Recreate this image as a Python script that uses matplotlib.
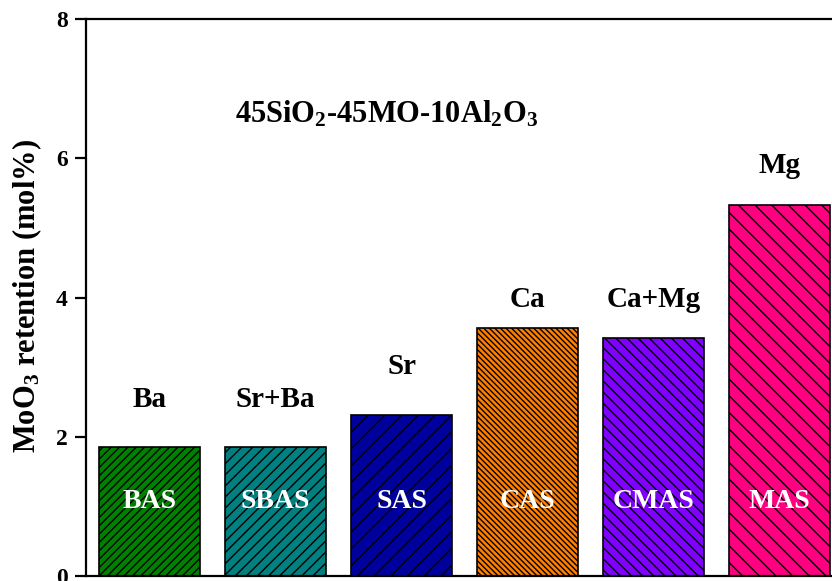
import matplotlib
matplotlib.use("Agg")
import matplotlib.pyplot as plt

plt.rcParams['font.family'] = ['Liberation Serif', 'DejaVu Serif']
plt.rcParams['font.weight'] = 'bold'
plt.rcParams['mathtext.fontset'] = 'custom'
plt.rcParams['mathtext.rm'] = 'Liberation Serif:bold'
plt.rcParams['mathtext.it'] = 'Liberation Serif:bold'
plt.rcParams['mathtext.bf'] = 'Liberation Serif:bold'
plt.rcParams['hatch.linewidth'] = 1.0

# glass systems and measured MoO3 retention
glasses = ['BAS', 'SBAS', 'SAS', 'CAS', 'CMAS', 'MAS']
cations = ['Ba', 'Sr+Ba', 'Sr', 'Ca', 'Ca+Mg', 'Mg']
retention = [1.85, 1.85, 2.31, 3.56, 3.42, 5.33]
colors = ['#008000', '#008080', '#00009C', '#FF8000', '#8000FF', '#FF0080']
hatches = ['////', '///', '//', '\\' * 6, '\\' * 3, '\\' * 2]
cation_label_y = [2.43, 2.43, 2.90, 3.87, 3.87, 5.79]

fig = plt.figure(figsize=(8.32, 5.81), dpi=100)
ax = fig.add_axes([86 / 832, 5 / 581, 756.5 / 832, 557 / 581])

x = list(range(len(glasses)))
bars = ax.bar(x, retention, width=0.8, color=colors, edgecolor='black',
              linewidth=1.2, zorder=2)
for b, h in zip(bars, hatches):
    b.set_hatch(h)

for xi, lab, ly in zip(x, cations, cation_label_y):
    ax.text(xi, ly, lab, ha='center', va='baseline', fontsize=21,
            fontweight='bold', color='black')
for xi, lab in zip(x, glasses):
    ax.text(xi, 0.98, lab, ha='center', va='baseline', fontsize=20,
            fontweight='bold', color='white', zorder=3)

ax.text(1.88, 6.51, r'45SiO$_2$-45MO-10Al$_2$O$_3$', ha='center',
        va='baseline', fontsize=22, fontweight='bold')

ax.set_xlim(-0.504, 5.5)
ax.set_ylim(0, 8)
ax.set_yticks([0, 2, 4, 6, 8])
ax.set_xticks([])
ax.tick_params(axis='y', direction='out', length=8, width=1.6,
               labelsize=17, pad=5)
for s in ax.spines.values():
    s.set_linewidth(1.6)

fig.text(27 / 832, 1 - 296.5 / 581, r'MoO$_3$ retention (mol%)',
         rotation=90, ha='center', va='center', fontsize=22,
         fontweight='bold')

fig.savefig('out.png', dpi=100)
